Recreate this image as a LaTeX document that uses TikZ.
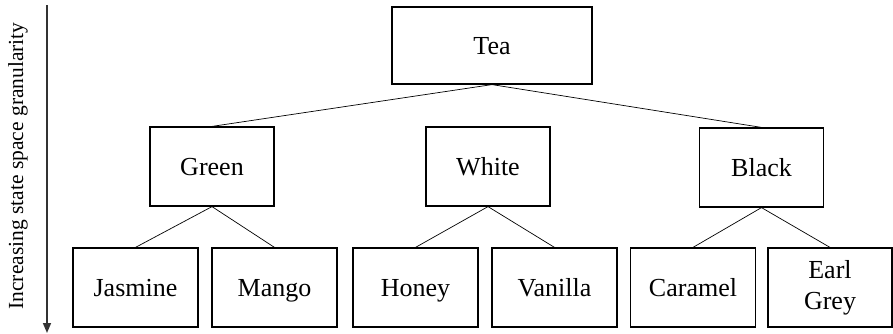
\documentclass[tikz,border=0pt]{standalone}
\usepackage{fontspec}
\setmainfont{Liberation Serif}
\usetikzlibrary{arrows.meta}
\begin{document}
\begin{tikzpicture}[x=1pt,y=-1pt,
  box/.style={draw, line width=1.2pt, inner sep=0pt, align=center,
    font=\fontsize{26}{31}\selectfont},
  one/.style={text height=17pt, text depth=0pt},
  top/.style={box, one, minimum width=200pt, minimum height=77pt},
  mid/.style={box, one, minimum width=124pt, minimum height=79pt},
  leaf/.style={box, one, minimum width=125pt, minimum height=79pt},
  leaftwo/.style={box, minimum width=124pt, minimum height=79pt},
  link/.style={line width=0.7pt}]
\useasboundingbox (0,0) rectangle (893,333);
\node[top] (tea) at (492,45.5) {Tea};
\node[mid] (green) at (212,166.5) {Green};
\node[mid] (white) at (488,166.5) {White};
\node[mid] (black) at (761.5,167.5) {Black};
\node[leaf] (jas) at (135.5,287.5) {Jasmine};
\node[leaf] (man) at (274.5,287.5) {Mango};
\node[leaf] (hon) at (415.5,287.5) {Honey};
\node[leaf] (van) at (554.5,287.5) {Vanilla};
\node[leaf] (car) at (693,287.5) {Caramel};
\node[leaftwo] (earl) at (830,287.5) {Earl\\Grey};
\draw[link] (tea.south) -- (green.north);
\draw[link] (tea.south) -- (black.north);
\draw[link] (green.south) -- (jas.north);
\draw[link] (green.south) -- (man.north);
\draw[link] (white.south) -- (hon.north);
\draw[link] (white.south) -- (van.north);
\draw[link] (black.south) -- (car.north);
\draw[link] (black.south) -- (earl.north);
\coordinate (atop) at (47,5);
\coordinate (abot) at (47,333);
\draw[line width=1.6pt, draw=black!80, -{Triangle[length=10pt,width=8pt]}] (atop) -- (abot);
\node[rotate=90, font=\fontsize{21.5}{24}\selectfont] (lab) at (18,166) {Increasing state space granularity};
\end{tikzpicture}
\end{document}
